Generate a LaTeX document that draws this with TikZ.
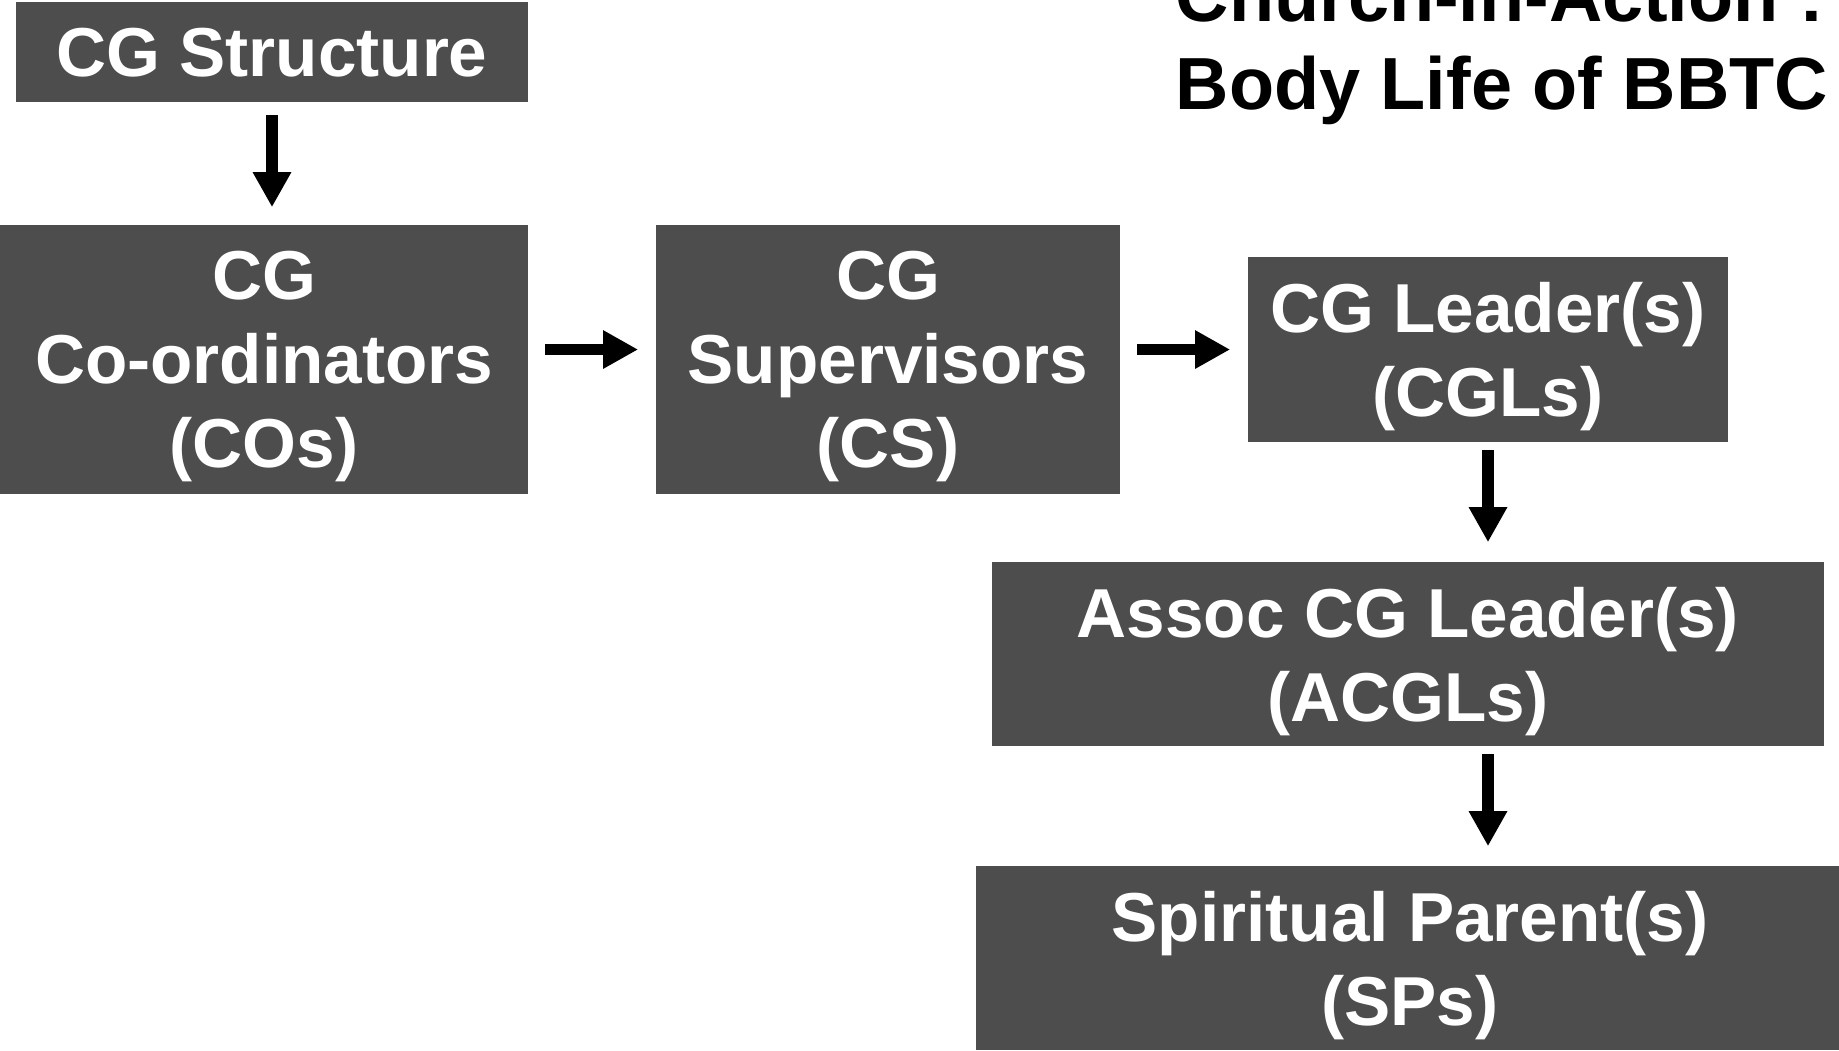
\documentclass[tikz,border=0pt]{standalone}
\usepackage{fontspec}
\setmainfont{Liberation Sans}
\usetikzlibrary{arrows.meta}

\definecolor{boxgray}{RGB}{77,77,77}

\tikzset{
    cgbox/.style={fill=boxgray, text=white, inner sep=0pt, align=center, text depth=0pt,
        font=\bfseries\fontsize{19.7pt}{23.9pt}\selectfont},
    titletext/.style={inner sep=0pt, anchor=base west,
        font=\bfseries\fontsize{21pt}{25pt}\selectfont},
    flow/.style={line width=0.117cm, -{Triangle[width=0.36cm,length=0.35cm]}},
}

\begin{document}
\begin{tikzpicture}[x=0.01cm, y=-0.01cm]

    \useasboundingbox (0,0) rectangle (1839,1050);
    \clip (0,0) rectangle (1839,1050);

    % Title (first line runs off the top)
    \node[titletext] (title top) at (1175,21) {Church-in-Action :};
    \node[titletext] (title) at (1175,109) {Body Life of BBTC};

    % Top row
    \node[cgbox, minimum width=5.12cm, minimum height=1.00cm] (cgs) at (272,52) {CG Structure};
    \node[cgbox, minimum width=5.28cm, minimum height=2.69cm] (co) at (264,359.5) {CG\\Co-ordinators\\(COs)};
    \node[cgbox, minimum width=4.64cm, minimum height=2.69cm] (cs) at (888,359.5) {CG\\Supervisors\\(CS)};
    \node[cgbox, minimum width=4.80cm, minimum height=1.85cm] (cgl) at (1488,349.5) {CG Leader(s)\\(CGLs)};

    % Lower boxes
    \node[cgbox, minimum width=8.32cm, minimum height=1.84cm] (acgl) at (1408,654) {Assoc CG Leader(s)\\(ACGLs)};
    \node[cgbox, minimum width=8.68cm, minimum height=1.84cm] (sp) at (1410,958) {Spiritual Parent(s)\\(SPs)};

    % Arrows
    \draw[flow, shorten <=0.12cm, shorten >=0.17cm] (cgs.south) -- (cgs.south |- co.north);
    \draw[flow, shorten <=0.16cm, shorten >=0.17cm] (co.east |- cgl.west) -- (cs.west |- cgl.west);
    \draw[flow, shorten <=0.16cm, shorten >=0.17cm] (cs.east |- cgl.west) -- (cgl.west);
    \draw[flow, shorten <=0.07cm, shorten >=0.19cm] (cgl.south) -- (cgl.south |- acgl.north);
    \draw[flow, shorten <=0.07cm, shorten >=0.19cm] (cgl.south |- acgl.south) -- (cgl.south |- sp.north);

\end{tikzpicture}
\end{document}
